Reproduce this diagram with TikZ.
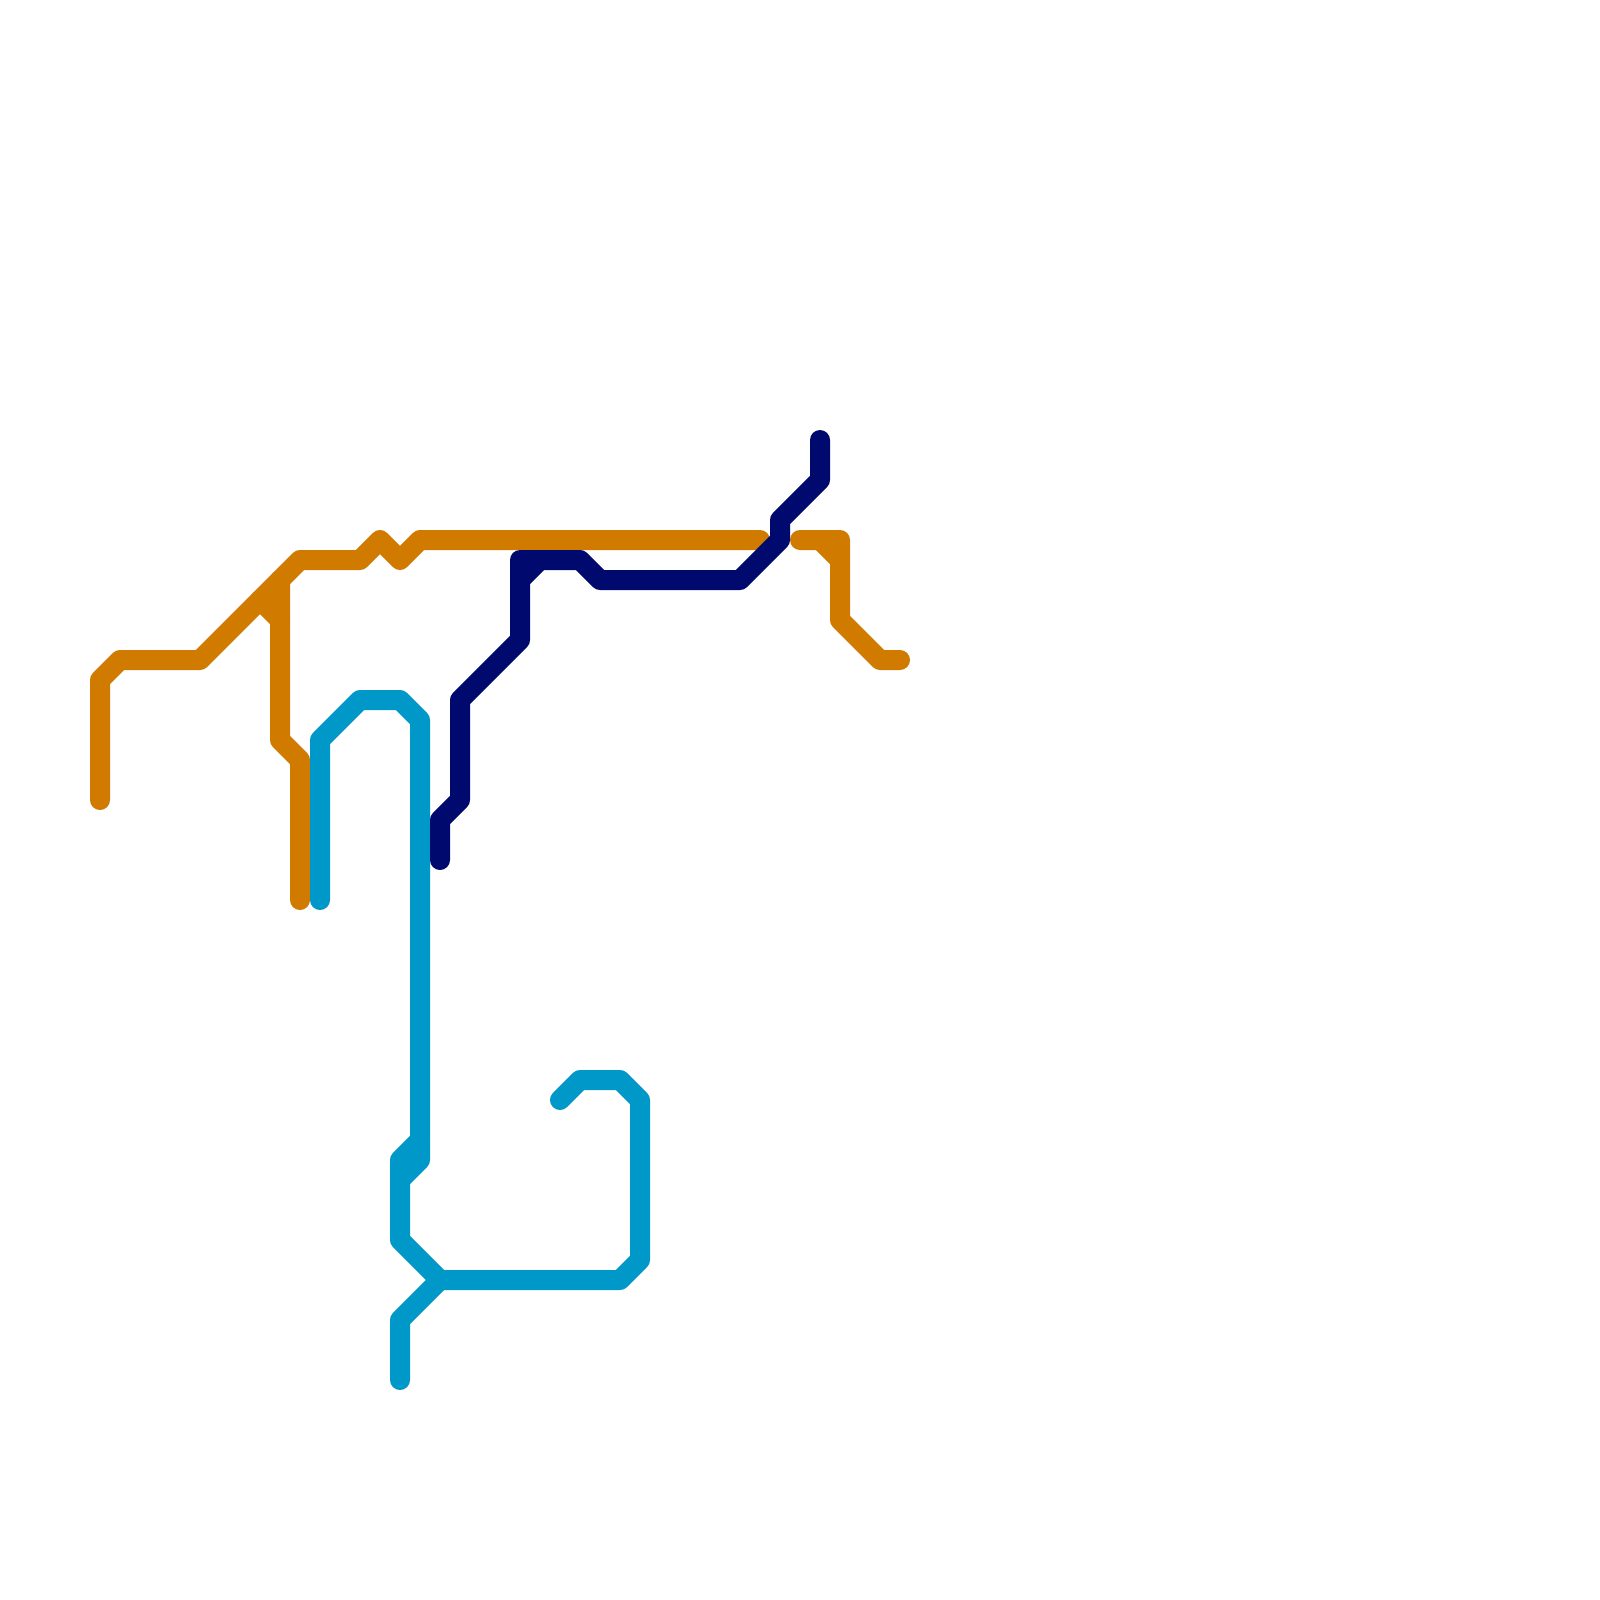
\documentclass[tikz,border=0pt]{standalone}
\definecolor{lineorange}{HTML}{D07B00}
\definecolor{linenavy}{HTML}{000A6E}
\definecolor{lineblue}{HTML}{0097C9}
\tikzset{
  metro/.style={line width=10pt,line cap=round,line join=round},
  orangeline/.style={metro,draw=lineorange},
  navyline/.style={metro,draw=linenavy},
  blueline/.style={metro,draw=lineblue}
}
\begin{document}
\begin{tikzpicture}[x=0.5pt,y=-0.5pt]
\useasboundingbox (0,0) rectangle (1600,1600);
\fill[white] (0,0) rectangle (1600,1600);
% orange
\draw[orangeline] (100,800) -- (100,680) -- (120,660) -- (200,660) -- (300,560) -- (360,560) -- (380,540) -- (400,560) -- (420,540) -- (760,540);
\draw[orangeline] (280,580) -- (280,740) -- (300,760) -- (300,900);
\draw[orangeline] (260,600) -- (280,620);
\draw[orangeline] (800,540) -- (840,540) -- (840,620) -- (880,660) -- (900,660);
\draw[orangeline] (820,540) -- (840,560);
% blue
\draw[blueline] (320,900) -- (320,740) -- (360,700) -- (400,700) -- (420,720) -- (420,1160) -- (400,1180);
\draw[blueline] (420,1140) -- (400,1160) -- (400,1240) -- (440,1280) -- (620,1280) -- (640,1260) -- (640,1100) -- (620,1080) -- (580,1080) -- (560,1100);
\draw[blueline] (400,1380) -- (400,1320) -- (440,1280);
% navy
\draw[navyline] (820,440) -- (820,480) -- (780,520) -- (780,540) -- (740,580) -- (600,580) -- (580,560) -- (520,560) -- (520,640) -- (460,700) -- (460,800) -- (440,820) -- (440,860);
\draw[navyline] (520,580) -- (540,560);
\end{tikzpicture}
\end{document}
